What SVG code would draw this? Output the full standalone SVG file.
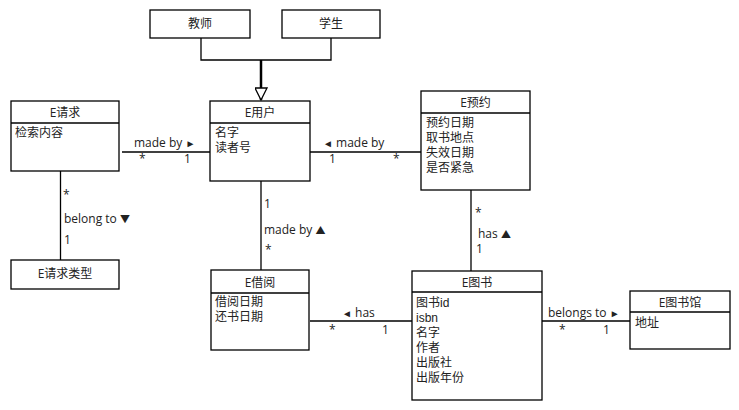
<svg xmlns="http://www.w3.org/2000/svg" width="739" height="410" viewBox="0 0 739 410">
<style>
.box{fill:#fff;stroke:#000;stroke-width:1.3}
.sep{stroke:#000;stroke-width:1.3}
.ln{fill:none;stroke:#000;stroke-width:1.3}
text{font-family:"Open Sans","Noto Sans CJK SC",sans-serif;font-size:12px;fill:#222}
.t{text-anchor:middle}
.at{font-family:"Liberation Sans","Noto Sans CJK SC",sans-serif;font-size:12px}
.ar{font-size:10px}
</style>
<defs>
<marker id="gen" markerUnits="userSpaceOnUse" viewBox="0 0 14 13" refX="13" refY="6.5" markerWidth="14" markerHeight="13" orient="auto">
<path d="M1,0.5 L13,6.5 L1,12.5 Z" fill="#fff" stroke="#000" stroke-width="1.3"/>
</marker>
</defs>
<rect width="739" height="410" fill="#fff"/>
<g id="connectors">
<path class="ln" d="M201,38 V60 H331 V38"/>
<path d="M261,60 V100" fill="none" stroke="#000" stroke-width="2.5" marker-end="url(#gen)"/>
<path class="ln" d="M122,152 H212"/>
<text x="134" y="147">made by <tspan class="ar">►</tspan></text>
<text x="139" y="163">*</text>
<text x="184" y="163">1</text>
<path class="ln" d="M310,152 H421"/>
<text x="323" y="147"><tspan class="ar">◄</tspan> made by</text>
<text x="329" y="163">1</text>
<text x="393" y="163">*</text>
<path class="ln" d="M60.5,171 V260"/>
<text x="63" y="199">*</text>
<text x="64" y="223">belong to <tspan class="ar">▼</tspan></text>
<text x="64" y="244">1</text>
<path class="ln" d="M261,181 V270"/>
<text x="264" y="208">1</text>
<text x="264" y="234">made by <tspan class="ar">▲</tspan></text>
<text x="265" y="254">*</text>
<path class="ln" d="M471,190 V271"/>
<text x="475" y="217">*</text>
<text x="478" y="238">has <tspan class="ar">▲</tspan></text>
<text x="476" y="253">1</text>
<path class="ln" d="M310,321 H412"/>
<text x="342" y="317"><tspan class="ar">◄</tspan> has</text>
<text x="329" y="334">*</text>
<text x="382" y="334">1</text>
<path class="ln" d="M542,321 H630"/>
<text x="548" y="317">belongs to <tspan class="ar">►</tspan></text>
<text x="559" y="334">*</text>
<text x="603" y="334">1</text>
</g>
<g id="teacher">
<rect class="box" x="150" y="10" width="100" height="28"/>
<text class="t" x="200" y="28">教师</text>
</g>
<g id="student">
<rect class="box" x="282" y="10" width="98" height="28"/>
<text class="t" x="331" y="28">学生</text>
</g>
<g id="user">
<rect class="box" x="210" y="101" width="100" height="80"/>
<line class="sep" x1="210" y1="123" x2="310" y2="123"/>
<text class="t" x="260" y="117">E用户</text>
<text class="at" x="215" y="137">名字</text>
<text class="at" x="215" y="152">读者号</text>
</g>
<g id="request">
<rect class="box" x="11" y="101" width="108" height="70"/>
<line class="sep" x1="11" y1="123" x2="119" y2="123"/>
<text class="t" x="65" y="117">E请求</text>
<text class="at" x="15" y="137">检索内容</text>
</g>
<g id="requestType">
<rect class="box" x="11" y="260" width="108" height="29"/>
<text class="t" x="65" y="278">E请求类型</text>
</g>
<g id="reservation">
<rect class="box" x="421" y="91" width="109" height="99"/>
<line class="sep" x1="421" y1="113" x2="530" y2="113"/>
<text class="t" x="475.5" y="107">E预约</text>
<text class="at" x="426" y="127">预约日期</text>
<text class="at" x="426" y="142">取书地点</text>
<text class="at" x="426" y="157">失效日期</text>
<text class="at" x="426" y="172">是否紧急</text>
</g>
<g id="borrow">
<rect class="box" x="211" y="270" width="98" height="80"/>
<line class="sep" x1="211" y1="293" x2="309" y2="293"/>
<text class="t" x="260" y="287">E借阅</text>
<text class="at" x="215" y="306">借阅日期</text>
<text class="at" x="215" y="321">还书日期</text>
</g>
<g id="book">
<rect class="box" x="412" y="271" width="130" height="129"/>
<line class="sep" x1="412" y1="292" x2="542" y2="292"/>
<text class="t" x="477" y="287">E图书</text>
<text class="at" x="416" y="307">图书id</text>
<text class="at" x="416" y="322">isbn</text>
<text class="at" x="416" y="337">名字</text>
<text class="at" x="416" y="352">作者</text>
<text class="at" x="416" y="367">出版社</text>
<text class="at" x="416" y="382">出版年份</text>
</g>
<g id="library">
<rect class="box" x="630" y="291" width="100" height="58"/>
<line class="sep" x1="630" y1="312" x2="730" y2="312"/>
<text class="t" x="680" y="307">E图书馆</text>
<text class="at" x="635" y="327">地址</text>
</g>
</svg>
